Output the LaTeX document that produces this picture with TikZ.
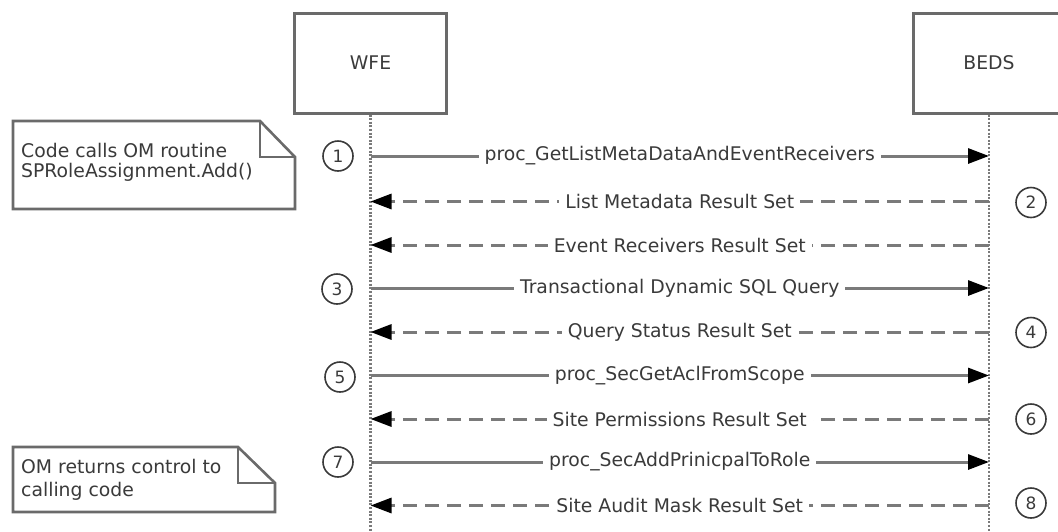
\documentclass[tikz,border=0pt]{standalone}
\usepackage{fontspec}
\setmainfont{DejaVu Sans}
\usetikzlibrary{arrows.meta}
\definecolor{txt}{HTML}{3A3A3A}
\definecolor{ln}{HTML}{7A7A7A}
\definecolor{bx}{HTML}{6A6A6A}
\begin{document}
\begin{tikzpicture}[x=1pt,y=-1pt,
  font=\fontsize{18.8}{20}\selectfont, text=txt,
  head/.style={draw=bx, line width=3pt, minimum width=152pt, minimum height=100pt, inner sep=0pt},
  life/.style={draw=ln, line width=2.4pt, dash pattern=on 2pt off 1.6pt},
  msg/.style={draw=ln, line width=3pt, -{Triangle[length=21pt,width=15pt,color=black]}},
  reply/.style={msg, dash pattern=on 14pt off 8pt},
  lbl/.style={midway, fill=white, inner xsep=6pt, inner ysep=1pt, text=txt},
  num/.style={circle, draw=txt, line width=1.6pt, minimum size=30pt, inner sep=0pt, font=\fontsize{17}{17}\selectfont},
  notebox/.style={draw=bx, line width=2.6pt, fill=white},
  notetext/.style={anchor=west, align=left, inner sep=0pt}
]
\useasboundingbox (0,0) rectangle (1058,531);
\clip (0,0) rectangle (1058,531);

% lifeline heads
\node[head] (wfe) at (370.5,63) {WFE};
\node[head] (beds) at (989,63) {BEDS};
\coordinate (wfeEnd) at (370.5,545);
\coordinate (bedsEnd) at (989,545);
\draw[life] (wfe.south) -- (wfeEnd);
\draw[life] (beds.south) -- (bedsEnd);

% row coordinates
\foreach \i/\y in {1/156,2/201.5,3/245,4/288,5/332,6/375.5,7/419,8/462,9/505.5}{
  \coordinate (w\i) at (370.5,\y);
  \coordinate (b\i) at (989,\y);
}

% messages
\draw[msg]   (w1) -- (b1) node[lbl] {proc\_GetListMetaDataAndEventReceivers};
\draw[reply] (b2) -- (w2) node[lbl] {List Metadata Result Set};
\draw[reply] (b3) -- (w3) node[lbl] {Event Receivers Result Set};
\draw[msg]   (w4) -- (b4) node[lbl] {Transactional Dynamic SQL Query};
\draw[reply] (b5) -- (w5) node[lbl] {Query Status Result Set};
\draw[msg]   (w6) -- (b6) node[lbl] {proc\_SecGetAclFromScope};
\draw[reply] (b7) -- (w7) node[lbl] {Site Permissions Result Set};
\draw[msg]   (w8) -- (b8) node[lbl] {proc\_SecAddPrinicpalToRole};
\draw[reply] (b9) -- (w9) node[lbl] {Site Audit Mask Result Set};

% step numbers
\node[num] (n1) at (338,156) {1};
\node[num] (n2) at (1031,202.5) {2};
\node[num] (n3) at (337,289) {3};
\node[num] (n4) at (1031,332.5) {4};
\node[num] (n5) at (340,377) {5};
\node[num] (n6) at (1031,419) {6};
\node[num] (n7) at (338,462) {7};
\node[num] (n8) at (1031,503) {8};

% note 1
\draw[notebox] (13,121) -- (260,121) -- (295,157) -- (295,209) -- (13,209) -- cycle;
\draw[draw=bx, line width=2.6pt] (260,121) -- (260,157) -- (295,157);
\node[notetext] (note1) at (21,162) {Code calls OM routine\\SPRoleAssignment.Add()};

% note 2
\draw[notebox] (13,447) -- (238,447) -- (275,483) -- (275,512) -- (13,512) -- cycle;
\draw[draw=bx, line width=2.6pt] (238,447) -- (238,483) -- (275,483);
\node[notetext] (note2) at (21,480) {OM returns control to\\[3pt]calling code};
\end{tikzpicture}
\end{document}
